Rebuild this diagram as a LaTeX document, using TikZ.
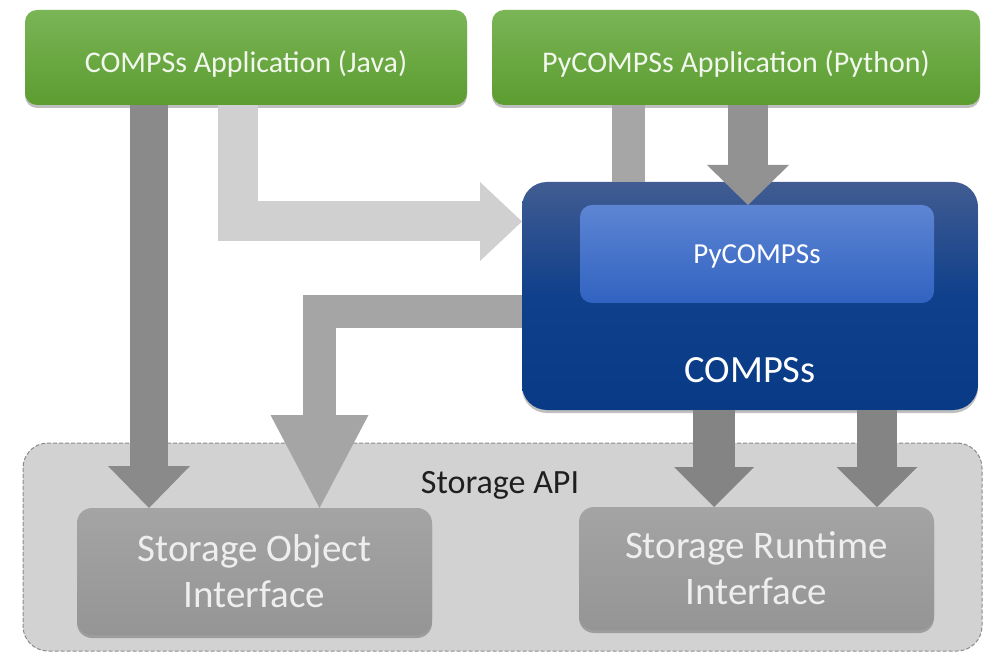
\documentclass[tikz,border=0pt]{standalone}
\usepackage{fontspec}
\setmainfont{Carlito}
\usetikzlibrary{arrows.meta,shadows}
\definecolor{grtop}{HTML}{7AB556}
\definecolor{grbot}{HTML}{5C9C30}
\definecolor{apptext}{HTML}{F2F7EE}
\definecolor{bltop}{HTML}{415C92}
\definecolor{blmid}{HTML}{0F408B}
\definecolor{blbot}{HTML}{083A85}
\definecolor{pytop}{HTML}{5D85D3}
\definecolor{pybot}{HTML}{3163C1}
\definecolor{stfill}{HTML}{D2D2D2}
\definecolor{stborder}{HTML}{8A8A8A}
\definecolor{iftop}{HTML}{A4A4A4}
\definecolor{ifbot}{HTML}{959595}
\definecolor{iftext}{HTML}{EEEEEE}
\definecolor{arrdark}{HTML}{8A8A8A}
\definecolor{arrlight}{HTML}{D0D0D0}
\definecolor{arrbar}{HTML}{A6A6A6}
\definecolor{arrmid}{HTML}{929292}
\definecolor{arrsoi}{HTML}{A5A5A5}
\definecolor{arrsri}{HTML}{848484}
\begin{document}
\begin{tikzpicture}[x=1pt,y=-1pt,
  box/.style={rectangle, inner sep=0pt, outer sep=0pt, draw=none},
  softshadow/.style={drop shadow={shadow xshift=0pt, shadow yshift=-3pt, opacity=0.25, fill=black}},
  appbox/.style={box, rounded corners=12pt, top color=grtop, bottom color=grbot,
    text=apptext, font=\fontsize{30}{34}\selectfont, text height=29.5pt, text depth=0pt,
    minimum height=95pt, softshadow},
  ifbox/.style={box, rounded corners=15pt, top color=iftop, bottom color=ifbot,
    text=iftext, align=center, font=\fontsize{39}{46}\selectfont, minimum width=355pt, softshadow},
  blockarrow/.style={line width=#1, line join=miter, line cap=butt},
]
\useasboundingbox (0,0) rectangle (983,652);

% Storage API container
\node[box, rounded corners=25pt, fill=stfill, draw=stborder, line width=1pt,
  dash pattern=on 4pt off 2pt, minimum width=959pt, minimum height=208pt] (storage) at (502.5,547) {};
\node[anchor=base, inner sep=0pt, font=\fontsize{34}{36}\selectfont, text=black!88] (apilbl) at (500,493) {Storage API};

% Storage interfaces
\node[ifbox, minimum height=127pt] (soi) at (254.5,571.5) {Storage Object\\Interface};
\node[ifbox, minimum height=123pt] (sri) at (756.5,568.5) {Storage Runtime\\Interface};

% Applications
\node[appbox, minimum width=442pt] (java) at (246,57.5) {COMPSs Application (Java)};
\node[appbox, minimum width=488pt] (python) at (736,57.5) {PyCOMPSs Application (Python)};

% COMPSs runtime
\node[box, rounded corners=25pt, top color=bltop, bottom color=blbot, middle color=blmid,
  minimum width=456pt, minimum height=228pt, softshadow] (compss) at (750,296) {};
\node[box, rounded corners=12pt, top color=pytop, bottom color=pybot,
  minimum width=354pt, minimum height=98pt, text=white, font=\fontsize{29}{32}\selectfont,
  text height=18.5pt, text depth=0pt] (pycompss) at (757,254) {PyCOMPSs};
\node[anchor=base, inner sep=0pt, text=white, font=\fontsize{38.5}{40}\selectfont] (compsslbl) at (750,382) {COMPSs};

% helper coordinates for the block arrows
\coordinate (xa1) at (149,0);
\coordinate (xa2) at (238,0);
\coordinate (ya2) at (0,221.5);
\coordinate (xa3) at (628.5,0);
\coordinate (xa4) at (748,0);
\coordinate (ya5) at (0,312);
\coordinate (xa5) at (319.5,0);
\coordinate (xa6) at (714,0);
\coordinate (xa7) at (877,0);

% block arrows
\draw[blockarrow=38pt, draw=arrdark, -{Triangle[width=82pt,length=42pt,line width=0pt]}]
  (java.south -| xa1) -- (soi.north -| xa1);
\draw[blockarrow=40pt, draw=arrlight, -{Triangle[width=79pt,length=42pt,line width=0pt]}]
  (java.south -| xa2) |- (compss.west |- ya2);
\draw[blockarrow=33pt, draw=arrbar]
  (python.south -| xa3) -- (compss.north -| xa3);
\draw[blockarrow=40pt, draw=arrmid, -{Triangle[width=82pt,length=40pt,line width=0pt]}]
  (python.south -| xa4) -- (pycompss.north -| xa4);
\draw[blockarrow=33pt, draw=arrsoi, -{Triangle[width=98pt,length=93pt,line width=0pt]}]
  (compss.west |- ya5) -| (soi.north -| xa5);
\draw[blockarrow=42pt, draw=arrsri, -{Triangle[width=80pt,length=40pt,line width=0pt]}]
  (compss.south -| xa6) -- (sri.north -| xa6);
\draw[blockarrow=40pt, draw=arrsri, -{Triangle[width=81pt,length=40pt,line width=0pt]}]
  (compss.south -| xa7) -- (sri.north -| xa7);
\end{tikzpicture}
\end{document}
